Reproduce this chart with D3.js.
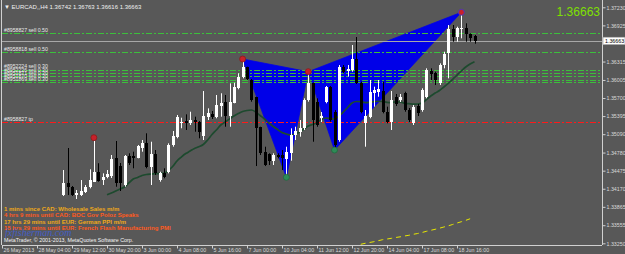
<!DOCTYPE html>
<html><head><meta charset="utf-8">
<script src="https://cdn.jsdelivr.net/npm/d3@7/dist/d3.min.js"></script>
<style>html,body{margin:0;padding:0;background:#585858;overflow:hidden}svg{display:block}</style>
</head><body>
<svg id="c" width="625" height="254"></svg>
<script>
// ---------- DATA ----------
const firstBar = 14; // bar index of first visible candle (H4 bars from 26 May 2013 20:00)
const opens = [1.34064,1.34272,1.34204,1.34064,1.34064,1.34110,1.34194,1.34289,1.34457,1.34317,
1.34373,1.34385,1.34683,1.34553,1.34233,1.34722,1.34722,1.34693,1.34862,1.34936,
1.34542,1.34756,1.34317,1.34430,1.34457,1.34908,1.35048,1.35274,1.35312,1.35274,
1.35329,1.35301,1.35060,1.35375,1.35430,1.35385,1.35565,1.35638,1.35397,1.35621,
1.35864,1.36059,1.36218,1.36004,1.35712,1.35206,1.34795,1.34756,1.34643,1.34739,
1.34739,1.34671,1.34768,1.35076,1.35132,1.35189,1.35667,1.35948,1.35638,1.35363,
1.35638,1.35891,1.35470,1.34992,1.36228,1.36156,1.36172,1.36353,1.35958,1.35284,
1.35385,1.35779,1.35806,1.35823,1.35470,1.35301,1.35717,1.35667,1.35790,1.35498,
1.35274,1.35565,1.35498,1.35722,1.36156,1.36117,1.35948,1.36257,1.36454,1.36864,
1.36724,1.36864,1.36886,1.36775,1.36742];
const highs = [1.34486,1.34857,1.34216,1.34149,1.34317,1.34233,1.34498,1.34992,1.34600,1.34430,
1.34486,1.34739,1.34975,1.34604,1.34739,1.34768,1.34795,1.34908,1.34992,1.35105,
1.34963,1.34823,1.34457,1.34515,1.34936,1.35144,1.35414,1.35368,1.35425,1.35469,
1.35385,1.35312,1.35818,1.35526,1.35481,1.35751,1.35780,1.35751,1.35948,1.35958,
1.36117,1.36349,1.36228,1.36021,1.35722,1.35216,1.34879,1.34768,1.34768,1.34768,
1.34823,1.34879,1.35189,1.35216,1.35329,1.35695,1.36144,1.35958,1.35695,1.35464,
1.35903,1.35903,1.35498,1.36257,1.36257,1.36257,1.36594,1.36729,1.35975,1.35498,
1.36004,1.35891,1.36004,1.35975,1.35554,1.35818,1.35768,1.35768,1.35806,1.35532,
1.35582,1.35599,1.35864,1.36201,1.36201,1.36144,1.36285,1.36481,1.36931,1.36931,
1.36903,1.37142,1.36960,1.36791,1.36763];
const lows = [1.34047,1.34064,1.34047,1.33997,1.34047,1.34098,1.34177,1.34284,1.34289,1.34233,
1.34346,1.34351,1.34204,1.34132,1.34204,1.34570,1.34515,1.34683,1.34795,1.34515,
1.34233,1.34402,1.34289,1.34346,1.34430,1.34879,1.35021,1.35190,1.35161,1.35245,
1.35132,1.35021,1.34992,1.35329,1.35346,1.35358,1.35385,1.35216,1.35216,1.35611,
1.35847,1.36032,1.36004,1.35638,1.34553,1.34739,1.34553,1.34570,1.34570,1.34683,
1.34486,1.34368,1.34643,1.34992,1.35048,1.35161,1.35638,1.34963,1.35216,1.35295,
1.35611,1.35301,1.34823,1.34963,1.36117,1.36060,1.36144,1.35936,1.35442,1.34879,
1.35358,1.35554,1.35722,1.35442,1.35274,1.35161,1.35565,1.35633,1.35469,1.35295,
1.35245,1.35397,1.35469,1.35695,1.36004,1.35919,1.35919,1.36201,1.36032,1.36650,
1.36650,1.36707,1.36650,1.36650,1.36616];
const closes = [1.34272,1.34204,1.34064,1.34098,1.34137,1.34204,1.34317,1.34457,1.34301,1.34373,
1.34414,1.34666,1.34262,1.34267,1.34722,1.34600,1.34693,1.34891,1.34936,1.34542,
1.34756,1.34430,1.34430,1.34373,1.34908,1.35064,1.35385,1.35301,1.35274,1.35329,
1.35301,1.35122,1.35397,1.35442,1.35385,1.35582,1.35611,1.35397,1.35638,1.35891,
1.36059,1.36228,1.36016,1.35667,1.35189,1.34768,1.34570,1.34643,1.34739,1.34710,
1.34683,1.34795,1.35076,1.35149,1.35200,1.35667,1.35948,1.35329,1.35245,1.35397,
1.35891,1.35329,1.34908,1.36228,1.36144,1.36184,1.36353,1.35948,1.35470,1.35397,
1.35806,1.35835,1.35847,1.35470,1.35301,1.35667,1.35599,1.35717,1.35498,1.35329,
1.35554,1.35442,1.35835,1.36172,1.36105,1.36004,1.36257,1.36437,1.36864,1.36724,
1.36886,1.36886,1.36775,1.36707,1.36663];

const maFirstBar = 24;
const maValues = [1.34069,1.34098,1.34132,1.34166,1.34199,1.34267,1.34334,1.34359,1.34393,1.34410,
1.34418,1.34424,1.34427,1.34430,1.34478,1.34545,1.34638,1.34705,1.34764,1.34806,
1.34849,1.34879,1.34916,1.34992,1.35085,1.35161,1.35245,1.35295,1.35346,1.35397,
1.35439,1.35473,1.35490,1.35498,1.35464,1.35405,1.35346,1.35279,1.35220,1.35169,
1.35118,1.35093,1.35076,1.35093,1.35127,1.35177,1.35228,1.35253,1.35287,1.35338,
1.35363,1.35355,1.35346,1.35397,1.35464,1.35540,1.35616,1.35641,1.35638,1.35624,
1.35629,1.35638,1.35646,1.35641,1.35628,1.35624,1.35636,1.35633,1.35612,1.35604,
1.35596,1.35599,1.35616,1.35675,1.35734,1.35785,1.35827,1.35886,1.35948,1.36016,
1.36088,1.36156,1.36223,1.36274,1.36313];

const yellowFirstBar = 82;
const yellowValues = [1.33233,1.33250,1.33263,1.33277,1.33294,1.33311,1.33322,1.33334,1.33348,1.33359,
1.33373,1.33385,1.33402,1.33415,1.33432,1.33452,1.33469,1.33486,1.33505,1.33525,
1.33545,1.33567,1.33592,1.33614,1.33637,1.33664];

// harmonic pattern points X A B C D: bar index, price
const patternBars = [55, 65, 70, 76, 105];
const patternPrices = [1.36358, 1.34363, 1.36144, 1.34823, 1.37146];
const patternKinds = ["high","low","high","low","high"];
const extraDotBar = [21];
const extraDotPrice = [1.35031];

const orderPrices = [1.36791, 1.36471, 1.36181, 1.36122, 1.36063, 1.36012, 1.35965];
const orderLabels = ["#8958827 sell 0.50","#8958818 sell 0.50","#8952224 sell 0.30","#8952226 sell 0.30","#8951871 sell 0.30","#8951870 sell 0.30","#8951869 sell 0.30"];
const tpPrice = [1.35290];
const tpLabel = ["#8958827 tp"];
const bidPrice = 1.36663;
const titleText = "\u25BC EURCAD,,H4  1.36742 1.36763 1.36616 1.36663";

const priceTicks = [1.37230,1.36925,1.36620,1.36315,1.36005,1.35700,1.35395,1.35090,1.34780,1.34475,1.34170,1.33865,1.33555,1.33250];
const timeTickBars = [0,8,16,24,32,40,48,56,64,72,80,88,96,104];
const timeTickLabels = ["26 May 2013","28 May 04:00","29 May 12:00","30 May 20:00","3 Jun 00:00","4 Jun 08:00","5 Jun 16:00","7 Jun 00:00","10 Jun 04:00","11 Jun 12:00","12 Jun 20:00","14 Jun 04:00","17 Jun 08:00","18 Jun 16:00"];

const eventLines = ["1 mins since CAD: Wholesale Sales m/m","4 hrs 9 mins until CAD: BOC Gov Poloz Speaks","17 hrs 29 mins until EUR: German PPI m/m","18 hrs 29 mins until EUR: French Flash Manufacturing PMI"];
const eventKinds = ["since","until-near","until","until-near"];

// ---------- DRAW ----------
const svg = d3.select("#c");
const FONT = "'Liberation Sans', Arial, 'DejaVu Sans', sans-serif";
const L = 2, R = 602, B = 245;
const x = d3.scaleLinear().domain([0, 137.14]).range([L, R]);
const y = d3.scaleLinear().domain([1.33250, 1.37230]).range([243.3, 7.3]);

svg.append("rect").attr("width",625).attr("height",254).attr("fill","#585858");
svg.append("defs").append("clipPath").attr("id","pc").append("rect")
  .attr("x",L).attr("y",0).attr("width",R-L).attr("height",B);
const plot = svg.append("g").attr("clip-path","url(#pc)");

// pattern triangles
const px = i => x(patternBars[i]), py = i => y(patternPrices[i]);
const tri = [[0,1,2],[2,3,4]];
plot.selectAll("path.tri").data(tri).join("path").attr("class","tri")
  .attr("d", t => "M" + t.map(k => px(k)+","+py(k)).join("L") + "Z")
  .attr("fill","#0000e8").attr("stroke","#0000e8").attr("stroke-width",0.8);

// order lines
const dash = "6,2,2,2";
plot.selectAll("line.ord").data(orderPrices).join("line").attr("class","ord")
  .attr("x1",L).attr("x2",R).attr("y1",d=>Math.round(y(d))+0.5).attr("y2",d=>Math.round(y(d))+0.5)
  .attr("stroke","#3cbf3c").attr("stroke-dasharray",dash).attr("stroke-width",1);
plot.selectAll("line.tp").data(tpPrice).join("line").attr("class","tp")
  .attr("x1",L).attr("x2",R).attr("y1",d=>Math.round(y(d))+0.5).attr("y2",d=>Math.round(y(d))+0.5)
  .attr("stroke","#ff1a1a").attr("stroke-dasharray",dash).attr("stroke-width",1);
// bid line
plot.append("line").attr("x1",L).attr("x2",R).attr("y1",Math.round(y(bidPrice))+0.5).attr("y2",Math.round(y(bidPrice))+0.5)
  .attr("stroke","#a8a8a8").attr("stroke-width",1);

// order labels
plot.selectAll("text.ol").data(orderPrices).join("text").attr("class","ol")
  .attr("x",4).attr("y",d=>y(d)-1.5).text((d,i)=>orderLabels[i])
  .attr("font-family",FONT).attr("font-size",5.2).attr("fill","#e8e8e8");
plot.selectAll("text.tpl").data(tpPrice).join("text").attr("class","tpl")
  .attr("x",4).attr("y",d=>y(d)-1.5).text((d,i)=>tpLabel[i])
  .attr("font-family",FONT).attr("font-size",5.2).attr("fill","#e8e8e8");

// MA line
const maLine = d3.line().x((d,i)=>x(maFirstBar+i)).y(d=>y(d)).curve(d3.curveMonotoneX);
plot.append("path").datum(maValues).attr("d",maLine).attr("fill","none")
  .attr("stroke","#1d4a2e").attr("stroke-width",1.7);

// yellow dashed line
const yLine = d3.line().x((d,i)=>x(yellowFirstBar+i)).y(d=>y(d));
plot.append("path").datum(yellowValues).attr("d",yLine).attr("fill","none")
  .attr("stroke","#e8e800").attr("stroke-width",1).attr("stroke-dasharray","5,4");

// candles
const candles = opens.map((o,k)=>({i:firstBar+k,o,h:highs[k],l:lows[k],c:closes[k]}));
const cg = plot.selectAll("g.cd").data(candles).join("g").attr("class","cd");
cg.append("line").attr("x1",d=>Math.round(x(d.i))+0.5).attr("x2",d=>Math.round(x(d.i))+0.5)
  .attr("y1",d=>y(d.h)).attr("y2",d=>y(d.l))
  .attr("stroke",d=>d.c>=d.o?"#ffffff":"#000000").attr("stroke-width",1);
cg.append("rect").attr("x",d=>Math.round(x(d.i))-1).attr("width",3)
  .attr("y",d=>Math.min(y(d.o),y(d.c))).attr("height",d=>Math.max(1,Math.abs(y(d.o)-y(d.c))))
  .attr("fill",d=>d.c>=d.o?"#ffffff":"#000000").attr("shape-rendering","crispEdges");

// pattern dots
plot.selectAll("circle.pd").data(patternBars).join("circle").attr("class","pd")
  .attr("cx",(d,i)=>px(i)).attr("cy",(d,i)=>py(i)).attr("r",3)
  .attr("fill",(d,i)=>patternKinds[i]==="high"?"#c8202a":"#2e8b57")
  .attr("stroke",(d,i)=>i===4?"#3a3ad0":(patternKinds[i]==="high"?"#8a1a1a":"#1f6b3f")).attr("stroke-width",0.8);
plot.selectAll("circle.xd").data(extraDotBar).join("circle").attr("class","xd")
  .attr("cx",d=>x(d)).attr("cy",(d,i)=>y(extraDotPrice[i])).attr("r",3)
  .attr("fill","#c8202a").attr("stroke","#8a1a1a").attr("stroke-width",0.8);

// title
svg.append("text").attr("x",4).attr("y",8.5).text(titleText)
  .attr("font-family",FONT).attr("font-size",6).attr("fill","#f0f0f0");
// big price
svg.append("text").attr("x",600).attr("y",16).attr("text-anchor","end").text(bidPrice.toFixed(5))
  .attr("font-family",FONT).attr("font-size",12).attr("fill","#7fe000");

// event texts
const evColor = {"since":"#f0a818","until":"#f0a818","until-near":"#ff5a1e"};
svg.selectAll("text.ev").data(eventLines).join("text").attr("class","ev")
  .attr("x",4).attr("y",(d,i)=>211+i*6.4).text(d=>d)
  .attr("font-family",FONT).attr("font-size",6).attr("font-weight","bold")
  .attr("fill",(d,i)=>evColor[eventKinds[i]]);
svg.append("text").attr("x",5).attr("y",235.5).text("fxfisherman.com")
  .attr("font-family","'Liberation Serif', 'DejaVu Serif', serif").attr("font-style","italic")
  .attr("font-size",10).attr("fill","#4060d8").attr("opacity",0.85);
svg.append("text").attr("x",4).attr("y",241.5).text("MetaTrader, \u00A9 2001-2013, MetaQuotes Software Corp.")
  .attr("font-family",FONT).attr("font-size",5.3).attr("fill","#f4f4f4");

// axes
const by = y(bidPrice);
const yAxis = d3.axisRight(y).tickValues(priceTicks).tickSize(3)
  .tickFormat(d => Math.abs(y(d) - by) < 6 ? "" : d3.format(".5f")(d)); // label hidden under price box
const ya = svg.append("g").attr("transform",`translate(${R+0.5},0)`).call(yAxis);
ya.select(".domain").attr("d",`M0,0V${B}`).attr("stroke","#d0d0d0");
ya.selectAll(".tick line").attr("stroke","#d0d0d0");
ya.selectAll(".tick text").attr("font-family",FONT).attr("font-size",5.3).attr("fill","#d8d8d8").attr("x",4);

const xAxis = d3.axisBottom(x).tickValues(timeTickBars).tickSize(3).tickFormat((d,i)=>timeTickLabels[i]);
const xa = svg.append("g").attr("transform",`translate(0,${B+0.5})`).call(xAxis);
xa.select(".domain").attr("d",`M${L},0H${R}`).attr("stroke","#d0d0d0");
xa.selectAll(".tick line").attr("stroke","#d0d0d0");
xa.selectAll(".tick text").attr("font-family",FONT).attr("font-size",5.3).attr("fill","#d8d8d8")
  .attr("text-anchor","start").attr("x",1).attr("y",2.5).attr("dy","0.71em");
// left frame line
svg.append("line").attr("x1",L-0.5).attr("x2",L-0.5).attr("y1",0).attr("y2",B).attr("stroke","#d0d0d0");

// current price marker on axis
svg.append("rect").attr("x",R+1).attr("y",by-3.8).attr("width",22).attr("height",7.6)
  .attr("fill","#ffffff").attr("stroke","#808080").attr("stroke-width",0.5);
svg.append("text").attr("x",R+3).attr("y",by+2).text(bidPrice.toFixed(5))
  .attr("font-family",FONT).attr("font-size",5.3).attr("fill","#000000");
</script>
</body></html>
